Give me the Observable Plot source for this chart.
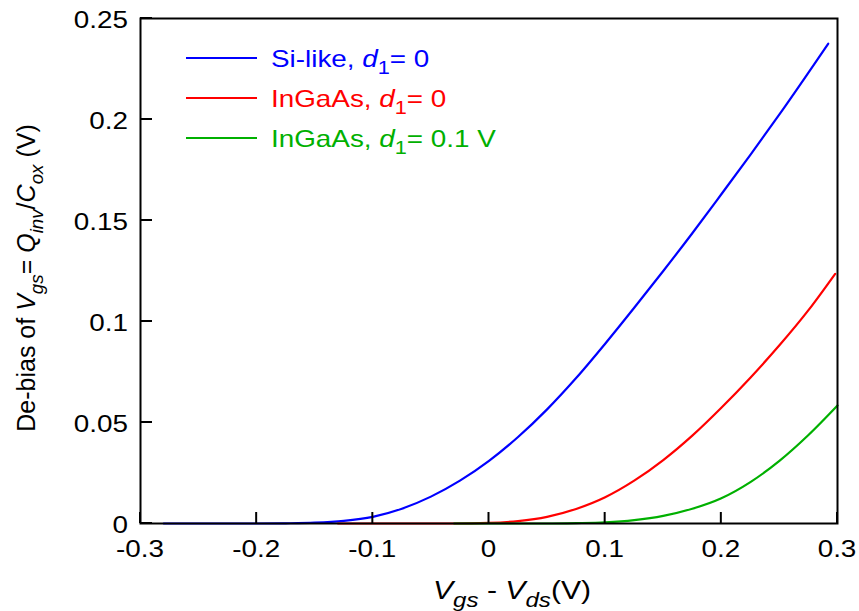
<!DOCTYPE html>
<html><head><meta charset="utf-8">
<script src="https://cdn.jsdelivr.net/npm/d3@7"></script>
<script src="https://cdn.jsdelivr.net/npm/@observablehq/plot@0.6"></script>
<style>body{margin:0;background:#fff}#chart{position:relative;width:859px;height:611px}</style>
</head><body><div id="chart"></div>
<script>
const xTicks = [-0.3, -0.2, -0.1, 0, 0.1, 0.2, 0.3];
const xTickLabels = ["-0.3", "-0.2", "-0.1", "0", "0.1", "0.2", "0.3"];
const yTicks = [0, 0.05, 0.1, 0.15, 0.2, 0.25];
const yTickLabels = ["0", "0.05", "0.1", "0.15", "0.2", "0.25"];

const seriesLabels = [
  [{t: "Si-like, "}, {t: "d", i: true}, {t: "1", sub: true}, {t: "= 0"}],
  [{t: "InGaAs, "}, {t: "d", i: true}, {t: "1", sub: true}, {t: "= 0"}],
  [{t: "InGaAs, "}, {t: "d", i: true}, {t: "1", sub: true}, {t: "= 0.1 V"}]
];
const seriesColors = ["#0000ff", "#ff0000", "#00b000"];

const siX = [-0.28, -0.2, -0.175, -0.15, -0.125, -0.1, -0.075, -0.05, -0.025, 0, 0.025, 0.05, 0.075, 0.1, 0.125, 0.15, 0.175, 0.2, 0.225, 0.25, 0.292];
const siY = [0, 0, 0.0001, 0.0004, 0.0013, 0.0033, 0.0073, 0.0133, 0.0212, 0.031, 0.0428, 0.0565, 0.072, 0.089, 0.1068, 0.125, 0.1437, 0.163, 0.1825, 0.2025, 0.2375];
const ingaX = [-0.13, -0.03, 0, 0.025, 0.05, 0.075, 0.1, 0.125, 0.15, 0.175, 0.2, 0.225, 0.25, 0.275, 0.298];
const ingaY = [0, 0, 0.0003, 0.0012, 0.0033, 0.0072, 0.013, 0.0212, 0.0314, 0.0435, 0.0573, 0.0722, 0.0882, 0.1056, 0.1236];
const ingaD1X = [-0.03, 0.05, 0.075, 0.1, 0.125, 0.15, 0.175, 0.2, 0.225, 0.25, 0.275, 0.3];
const ingaD1Y = [0, 0, 0.0002, 0.0006, 0.0017, 0.0038, 0.0073, 0.0125, 0.0205, 0.031, 0.0438, 0.0584];

const toRows = (xs, ys) => xs.map((x, k) => ({x, y: ys[k]}));
const series = [toRows(siX, siY), toRows(ingaX, ingaY), toRows(ingaD1X, ingaD1Y)];

const W = 859, H = 611, mL = 140, mR = 22, mT = 18, mB = 88;
const FONT = "'Liberation Sans', Arial, sans-serif";
const SX = 1.16;

const plot = Plot.plot({
  width: W, height: H,
  marginLeft: mL, marginRight: mR, marginTop: mT, marginBottom: mB,
  style: {fontFamily: FONT, fontSize: "24px", color: "black", background: "white"},
  x: {domain: [-0.3, 0.3], axis: null},
  y: {domain: [0, 0.25], axis: null},
  marks: [
    ...series.map((rows, k) => Plot.line(rows, {x: "x", y: "y", stroke: seriesColors[k], strokeWidth: 2.2, curve: "monotone-x"})),
    Plot.frame({stroke: "black", strokeWidth: 2})
  ]
});
document.getElementById("chart").appendChild(plot);

const svg = d3.select(plot);
const xs = plot.scale("x"), ys = plot.scale("y");
const y0 = ys.apply(0), x0 = xs.apply(-0.3);

// inward ticks and tick labels, positioned through Plot's scales
const ax = svg.append("g").attr("font-family", FONT).attr("font-size", 24).attr("fill", "black");
xTicks.forEach((v, k) => {
  const px = xs.apply(v);
  ax.append("line").attr("x1", px).attr("x2", px).attr("y1", y0).attr("y2", y0 - 11)
    .attr("stroke", "black").attr("stroke-width", 2);
  ax.append("text").attr("text-anchor", "middle")
    .attr("transform", `translate(${px},${y0 + 34}) scale(${SX},1)`).text(xTickLabels[k]);
});
yTicks.forEach((v, k) => {
  const py = ys.apply(v);
  ax.append("line").attr("x1", x0).attr("x2", x0 + 12).attr("y1", py).attr("y2", py)
    .attr("stroke", "black").attr("stroke-width", 2);
  ax.append("text").attr("text-anchor", "end")
    .attr("transform", `translate(${x0 - 12},${py + 10}) scale(${SX},1)`).text(yTickLabels[k]);
});

function rich(sel, parts, size, subScale) {
  parts.forEach((p, k) => {
    const ts = sel.append("tspan").text(p.t);
    if (p.i) ts.attr("font-style", "italic");
    if (p.sub) ts.attr("font-size", size * subScale).attr("dy", size * 0.3);
    else if (k > 0 && parts[k - 1].sub) ts.attr("dy", -size * 0.3);
  });
}

// Legend
const lg = svg.append("g").attr("font-family", FONT);
seriesLabels.forEach((parts, k) => {
  const yy = 58 + 40 * k;
  lg.append("line").attr("x1", 186).attr("x2", 257).attr("y1", yy).attr("y2", yy)
    .attr("stroke", seriesColors[k]).attr("stroke-width", 2.2);
  const t = lg.append("text").attr("text-anchor", "start")
    .attr("transform", `translate(271,${yy + 8.5}) scale(${SX},1)`)
    .attr("fill", seriesColors[k]).attr("font-size", 24);
  rich(t, parts, 24, 0.78);
});

// X label
const xl = svg.append("text").attr("font-family", FONT)
  .attr("font-size", 26).attr("text-anchor", "middle").attr("fill", "black")
  .attr("transform", `translate(512,599) scale(${SX},1)`);
rich(xl, [{t: "V", i: true}, {t: "gs", i: true, sub: true}, {t: " - "}, {t: "V", i: true}, {t: "ds", i: true, sub: true}, {t: "(V)"}], 26, 0.8);

// Y label
const yl = svg.append("text").attr("font-family", FONT)
  .attr("font-size", 25).attr("text-anchor", "middle").attr("fill", "black")
  .attr("transform", `translate(35,278) rotate(-90)`);
rich(yl, [{t: "De-bias of "}, {t: "V", i: true}, {t: "gs", i: true, sub: true}, {t: "= "}, {t: "Q", i: true}, {t: "inv", i: true, sub: true}, {t: "/"}, {t: "C", i: true}, {t: "ox", i: true, sub: true}, {t: " (V)"}], 25, 0.75);
</script></body></html>
